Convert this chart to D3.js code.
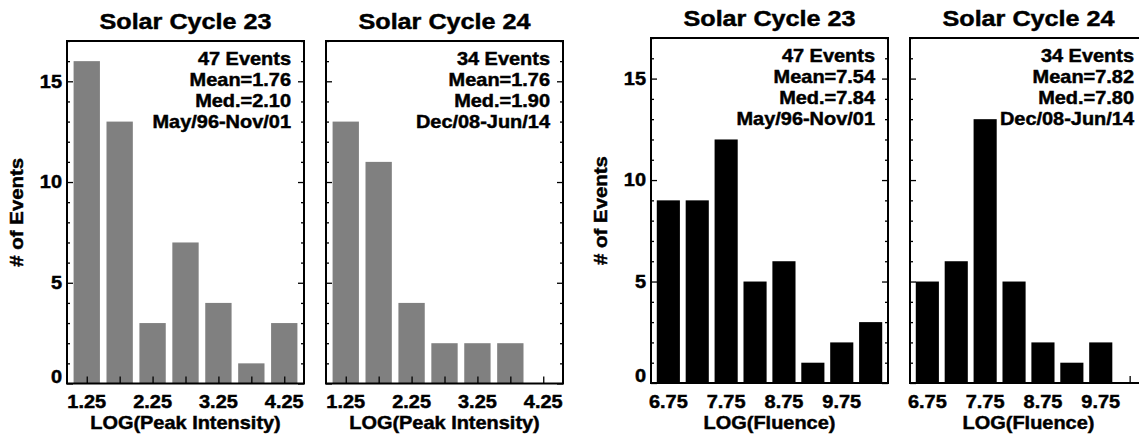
<!DOCTYPE html>
<html>
<head>
<meta charset="utf-8">
<script src="https://cdn.jsdelivr.net/npm/d3@7/dist/d3.min.js"></script>
<style>
  html, body { margin: 0; padding: 0; background: #fff; }
  svg { display: block; }
  text { font-family: "Liberation Sans", Arial, Helvetica, sans-serif; font-weight: bold; fill: #000; stroke: #000; stroke-width: 0.45px; }
</style>
</head>
<body>
<svg id="chart" width="1139" height="436"></svg>
<script>
// Histogram bin centres
const peakBins = [1.25, 1.75, 2.25, 2.75, 3.25, 3.75, 4.25];
const fluenceBins = [6.75, 7.25, 7.75, 8.25, 8.75, 9.25, 9.75, 10.25];

// Event counts per bin
const peakCycle23 = [16, 13, 3, 7, 4, 1, 3];
const peakCycle24 = [13, 11, 4, 2, 2, 2, 0];
const fluenceCycle23 = [9, 9, 12, 5, 6, 1, 2, 3];
const fluenceCycle24 = [5, 6, 13, 5, 2, 1, 2, 0];

// Tick labels
const peakTickLabels = [1.25, 2.25, 3.25, 4.25];
const fluenceTickLabels = [6.75, 7.75, 8.75, 9.75];
const countTickLabels = [0, 5, 10, 15];

// Titles and statistics
const titles = ["Solar Cycle 23", "Solar Cycle 24", "Solar Cycle 23", "Solar Cycle 24"];
const xTitles = ["LOG(Peak Intensity)", "LOG(Peak Intensity)", "LOG(Fluence)", "LOG(Fluence)"];
const yTitle = "# of Events";
const statsPeak23 = ["47 Events", "Mean=1.76", "Med.=2.10", "May/96-Nov/01"];
const statsPeak24 = ["34 Events", "Mean=1.76", "Med.=1.90", "Dec/08-Jun/14"];
const statsFluence23 = ["47 Events", "Mean=7.54", "Med.=7.84", "May/96-Nov/01"];
const statsFluence24 = ["34 Events", "Mean=7.82", "Med.=7.80", "Dec/08-Jun/14"];

const svg = d3.select("#chart");
const STRETCH = 1.14;

// Text helper: horizontally widened bold labels
function label(g, x, y, str, size, anchor, sx = STRETCH, rot = 0) {
  return g.append("text")
    .attr("transform", `translate(${x},${y}) rotate(${rot}) scale(${sx},1)`)
    .attr("text-anchor", anchor)
    .style("font-size", size + "px")
    .text(str);
}

const panels = [
  { left: 67,  right: 304,  top: 41, bottom: 383.5, dom: [0.95, 4.55],  bins: peakBins,    vals: peakCycle23,    ticks: peakTickLabels,    stats: statsPeak23,    fill: "#808080", yLabels: true },
  { left: 326, right: 563,  top: 41, bottom: 383.5, dom: [0.95, 4.55],  bins: peakBins,    vals: peakCycle24,    ticks: peakTickLabels,    stats: statsPeak24,    fill: "#808080", yLabels: false },
  { left: 651, right: 888,  top: 38, bottom: 383,   dom: [6.45, 10.55], bins: fluenceBins, vals: fluenceCycle23, ticks: fluenceTickLabels, stats: statsFluence23, fill: "#000000", yLabels: true },
  { left: 910, right: 1147, top: 38, bottom: 383,   dom: [6.45, 10.55], bins: fluenceBins, vals: fluenceCycle24, ticks: fluenceTickLabels, stats: statsFluence24, fill: "#000000", yLabels: false }
];

panels.forEach((p, i) => {
  const g = svg.append("g");
  const x = d3.scaleLinear().domain(p.dom).range([p.left, p.right]);
  const y = d3.scaleLinear().domain([0, 17]).range([p.bottom, p.top]);
  const halfW = 0.2;

  // Bars
  g.selectAll("rect.bar")
    .data(p.bins.map((b, k) => ({ b, v: p.vals[k] })).filter(d => d.v > 0))
    .join("rect")
    .attr("class", "bar")
    .attr("x", d => x(d.b - halfW))
    .attr("width", d => x(d.b + halfW) - x(d.b - halfW))
    .attr("y", d => y(d.v))
    .attr("height", d => y(0) - y(d.v))
    .attr("fill", p.fill);

  // Inward ticks
  const yMinor = d3.range(0, 18).filter(v => v % 5 !== 0);
  const yMajor = d3.range(0, 18, 5);
  const addAxis = (axis, tx, ty) => {
    const a = g.append("g").attr("transform", `translate(${tx},${ty})`).call(axis);
    a.select(".domain").remove();
    a.selectAll("line").attr("stroke", "#000").attr("stroke-width", 1.3);
  };
  addAxis(d3.axisLeft(y).tickValues(yMajor).tickSize(-6).tickFormat(""), p.left, 0);
  addAxis(d3.axisLeft(y).tickValues(yMinor).tickSize(-3).tickFormat(""), p.left, 0);
  addAxis(d3.axisRight(y).tickValues(yMajor).tickSize(-6).tickFormat(""), p.right, 0);
  addAxis(d3.axisRight(y).tickValues(yMinor).tickSize(-3).tickFormat(""), p.right, 0);
  addAxis(d3.axisBottom(x).tickValues(p.bins).tickSize(-7).tickFormat(""), 0, p.bottom);

  // Frame
  g.append("rect")
    .attr("x", p.left).attr("y", p.top)
    .attr("width", p.right - p.left).attr("height", p.bottom - p.top)
    .attr("fill", "none").attr("stroke", "#000").attr("stroke-width", 2);

  // X tick labels
  p.ticks.forEach(t => label(g, x(t), 408, d3.format(".2f")(t), 17.5, "middle"));

  // Y tick labels
  if (p.yLabels) {
    countTickLabels.forEach(t => {
      const yy = t === 0 ? y(0) - 1 : y(t) + 6.3;
      label(g, p.left - 5, yy, String(t), 17.5, "end");
    });
    label(g, p.left - 44, (p.top + p.bottom) / 2, yTitle, 19, "middle", 1.075, -90);
  }

  // Titles
  label(g, (p.left + p.right) / 2, p.top - 12, titles[i], 22, "middle", 1.145);
  label(g, (p.left + p.right) / 2, 429, xTitles[i], 17.5, "middle");

  // Statistics block
  p.stats.forEach((s, k) => label(g, p.right - 13, p.top + 23.5 + 21 * k, s, 17.5, "end"));
});
</script>
</body>
</html>
